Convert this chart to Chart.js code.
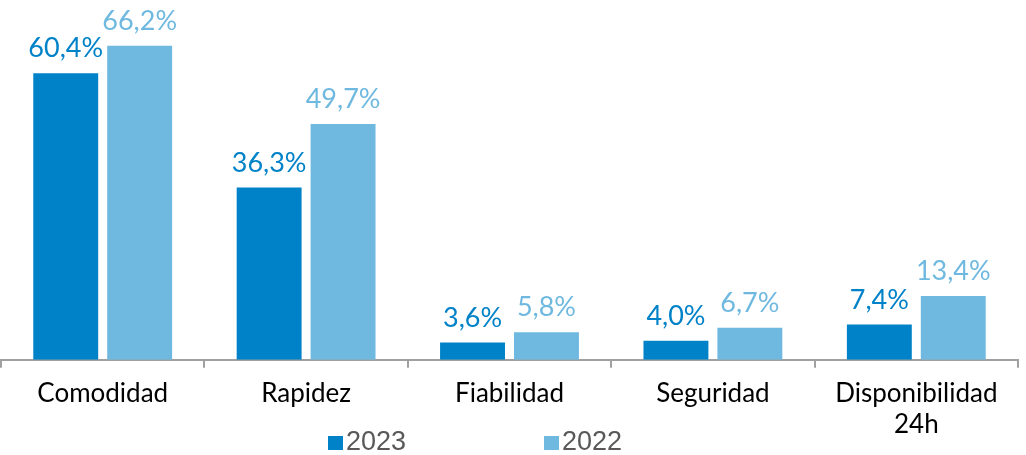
<!DOCTYPE html>
<html>
<head>
<meta charset="utf-8">
<script src="https://cdn.jsdelivr.net/npm/chart.js@4.4.1/dist/chart.umd.min.js"></script>
<style>
  html, body { margin: 0; padding: 0; background: #fff; }
  #wrap { width: 1026px; height: 455px; }
</style>
</head>
<body>
<div id="wrap"><canvas id="myChart"></canvas></div>
<script>
var categories = ['Comodidad', 'Rapidez', 'Fiabilidad', 'Seguridad', ['Disponibilidad', '24h']];
var seriesNames = ['2023', '2022'];
var values2023 = [60.4, 36.3, 3.6, 4.0, 7.4];
var values2022 = [66.2, 49.7, 5.8, 6.7, 13.4];
var colors = ['#0082c8', '#6fb9e0'];

// draws the value above each bar, spanish decimal comma
var barLabels = {
    id: 'barLabels',
    afterDatasetsDraw: function(chart){
        var ctx = chart.ctx;
        ctx.save();
        ctx.font = '27px Lato';
        ctx.textAlign = 'center';
        ctx.textBaseline = 'alphabetic';
        chart.data.datasets.forEach(function(ds, i){
            var meta = chart.getDatasetMeta(i);
            ctx.fillStyle = colors[i];
            meta.data.forEach(function(bar, j){
                var txt = ds.data[j].toFixed(1).replace('.', ',') + '%';
                ctx.fillText(txt, bar.x, bar.y - 16);
            });
        });
        ctx.restore();
    }
};

// legend sits between the axis labels, so draw it by hand
var legendX = [328, 544];
var bottomLegend = {
    id: 'bottomLegend',
    afterDraw: function(chart){
        var ctx = chart.ctx;
        ctx.save();
        ctx.font = '27px "Liberation Sans"';
        ctx.textBaseline = 'middle';
        ctx.textAlign = 'left';
        chart.data.datasets.forEach(function(ds, i){
            ctx.fillStyle = ds.backgroundColor;
            ctx.fillRect(legendX[i], 436, 15, 14);
            ctx.fillStyle = '#595959';
            ctx.fillText(ds.label, legendX[i] + 18, 443);
        });
        ctx.restore();
    }
};

var ctx = document.getElementById('myChart');
var myChart = new Chart(ctx, {
    type: 'bar',
    data: {
        labels: categories,
        datasets: [
            { label: seriesNames[0], data: values2023, backgroundColor: colors[0] },
            { label: seriesNames[1], data: values2022, backgroundColor: colors[1] }
        ]
    },
    plugins: [barLabels, bottomLegend],
    options: {
        responsive: true,
        maintainAspectRatio: false,
        animation: false,
        categoryPercentage: 0.727,
        barPercentage: 0.878,
        layout: { padding: { top: 4, left: 1, right: 8, bottom: 4 } },
        plugins: {
            legend: { display: false },
            tooltip: { enabled: false }
        },
        scales: {
            x: {
                grid: {
                    offset: true,
                    drawOnChartArea: false,
                    tickLength: 8,
                    color: '#a0a0a0',
                    lineWidth: 2
                },
                border: { color: '#a0a0a0', width: 2 },
                ticks: {
                    color: '#000',
                    padding: 11,
                    font: { family: 'Lato', size: 26, lineHeight: 1.18 }
                }
            },
            y: {
                display: false,
                min: 0,
                max: 75
            }
        }
    }
});
</script>
</body>
</html>
